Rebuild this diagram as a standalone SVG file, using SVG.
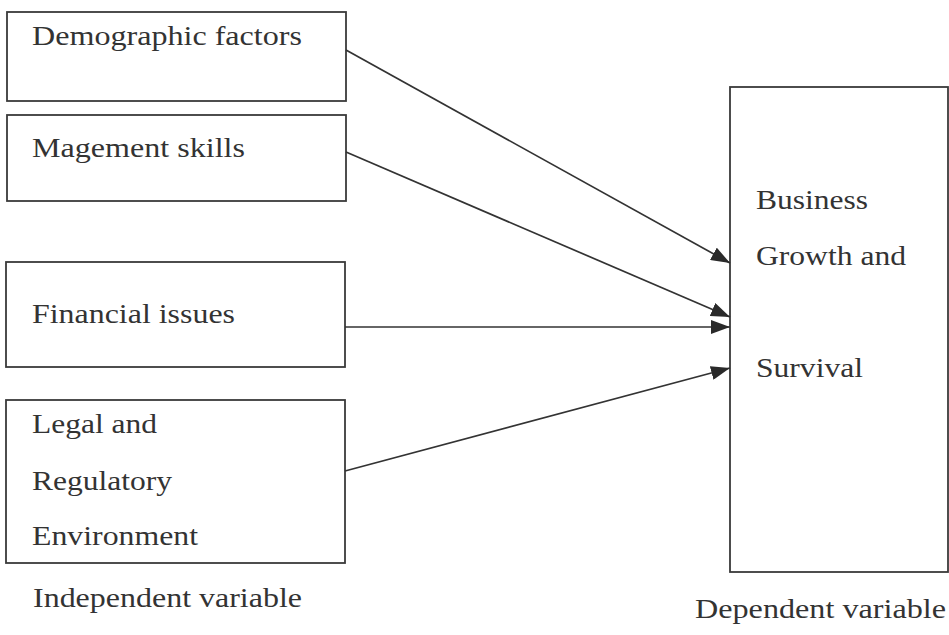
<svg xmlns="http://www.w3.org/2000/svg" width="949" height="635" viewBox="0 0 949 635">
<style>
.box{fill:#fff;stroke:#3a3a3a;stroke-width:1.8}
.t{font-family:"Liberation Serif","Times New Roman",serif;font-size:28px;fill:#333}
.c{fill:none;stroke:#333;stroke-width:1.7}
</style>
<defs>
<marker id="ah" markerUnits="userSpaceOnUse" markerWidth="20" markerHeight="14" refX="19" refY="7" orient="auto">
<path d="M0,0 L19,7 L0,14 Z" fill="#2a2a2a"/>
</marker>
</defs>
<rect width="949" height="635" fill="#fff"/>
<g id="n-demographic">
<rect class="box" x="7" y="12" width="339" height="89"/>
<text class="t" x="32" y="45" textLength="270" lengthAdjust="spacingAndGlyphs">Demographic factors</text>
</g>
<g id="n-management">
<rect class="box" x="7" y="115" width="339" height="86"/>
<text class="t" x="32" y="157" textLength="213" lengthAdjust="spacingAndGlyphs">Magement skills</text>
</g>
<g id="n-financial">
<rect class="box" x="6" y="262" width="339" height="105"/>
<text class="t" x="32" y="323" textLength="203" lengthAdjust="spacingAndGlyphs">Financial issues</text>
</g>
<g id="n-legal">
<rect class="box" x="6" y="400" width="339" height="163"/>
<text class="t" x="32" y="433" textLength="125" lengthAdjust="spacingAndGlyphs">Legal and</text>
<text class="t" x="32" y="490" textLength="140" lengthAdjust="spacingAndGlyphs">Regulatory</text>
<text class="t" x="32" y="545" textLength="166" lengthAdjust="spacingAndGlyphs">Environment</text>
</g>
<g id="n-business">
<rect class="box" x="730" y="87" width="218" height="485"/>
<text class="t" x="756" y="209" textLength="112" lengthAdjust="spacingAndGlyphs">Business</text>
<text class="t" x="756" y="265" textLength="150" lengthAdjust="spacingAndGlyphs">Growth and</text>
<text class="t" x="756" y="377" textLength="107" lengthAdjust="spacingAndGlyphs">Survival</text>
</g>
<g id="labels">
<text class="t" x="33" y="607" textLength="269" lengthAdjust="spacingAndGlyphs">Independent variable</text>
<text class="t" x="695" y="618" textLength="251" lengthAdjust="spacingAndGlyphs">Dependent variable</text>
</g>
<g id="connectors">
<path class="c" d="M346,50 L730,263" marker-end="url(#ah)"/>
<path class="c" d="M346,152 L730,317" marker-end="url(#ah)"/>
<path class="c" d="M345,327 L730,327" marker-end="url(#ah)"/>
<path class="c" d="M345,471 L730,368" marker-end="url(#ah)"/>
</g>
</svg>
